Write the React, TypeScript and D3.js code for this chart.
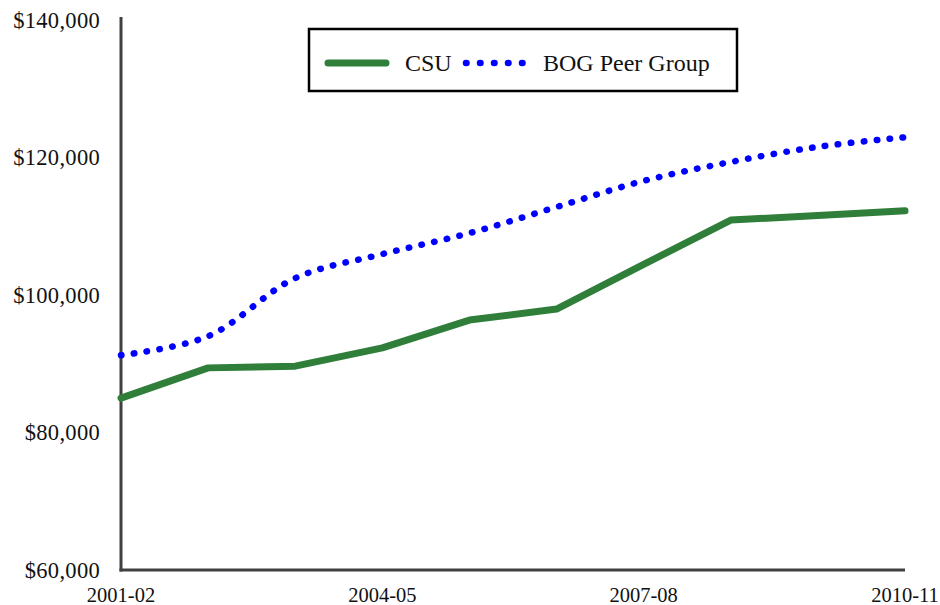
import React from "react";
import * as d3 from "d3";

const categories = ["2001-02", "2002-03", "2003-04", "2004-05", "2005-06", "2006-07", "2007-08", "2008-09", "2009-10", "2010-11"];
const csuValues = [85000, 89400, 89650, 92300, 96350, 97950, 104450, 110900, 111550, 112250];
const bogValues = [91250, 94000, 102450, 105950, 109000, 112800, 116600, 119350, 121550, 122950];
const yTicks = [60000, 80000, 100000, 120000, 140000];
const xTickLabels = ["2001-02", "2004-05", "2007-08", "2010-11"];

const W = 940;
const H = 605;
const left = 121;
const right = 905;
const top = 20;
const bottom = 570;
const FONT = "'Liberation Serif', 'Times New Roman', serif";

export default function App() {
  const x = d3.scalePoint<string>().domain(categories).range([left, right]);
  const y = d3.scaleLinear().domain([60000, 140000]).range([bottom, top]);
  const fmt = (v: number) => "$" + d3.format(",")(v);

  const csuLine = d3
    .line<number>()
    .x((_, i) => x(categories[i]) as number)
    .y((d) => y(d))
    .curve(d3.curveLinear);
  const bogLine = d3
    .line<number>()
    .x((_, i) => x(categories[i]) as number)
    .y((d) => y(d))
    .curve(d3.curveCatmullRom.alpha(0.5));

  return (
    <svg width={W} height={H} style={{ position: "absolute", left: 0, top: 0, background: "#fff" }} fontFamily={FONT}>
      <rect x={0} y={0} width={W} height={H} fill="#fff" />
      {/* y tick labels */}
      {yTicks.map((t) => (
        <text key={t} x={100} y={y(t)} dy="0.35em" textAnchor="end" fontSize={22.5} letterSpacing={0.3} fill="#111">
          {fmt(t)}
        </text>
      ))}
      {/* x tick labels */}
      {xTickLabels.map((c) => (
        <text key={c} x={x(c) as number} y={595} dy="0.35em" textAnchor="middle" fontSize={20.5} fill="#111">
          {c}
        </text>
      ))}
      {/* axes */}
      <line x1={left} x2={left} y1={top - 3} y2={bottom + 1.5} stroke="#404040" strokeWidth={3} />
      <line x1={left - 1.5} x2={right} y1={bottom} y2={bottom} stroke="#404040" strokeWidth={3} />
      {/* series */}
      <path d={csuLine(csuValues) || ""} fill="none" stroke="#2f7f3a" strokeWidth={7} strokeLinejoin="round" strokeLinecap="round" />
      <path d={bogLine(bogValues) || ""} fill="none" stroke="#0000ff" strokeWidth={6.5} strokeLinecap="round" strokeDasharray="0.5 12.5" />
      {/* legend */}
      <rect x={309} y={29} width={428} height={62} fill="#fff" stroke="#000" strokeWidth={2.5} />
      <line x1={328} x2={386} y1={63} y2={63} stroke="#2f7f3a" strokeWidth={7} strokeLinecap="round" />
      <text x={405} y={63} dy="0.35em" fontSize={24} fill="#111">CSU</text>
      <line x1={466} x2={523} y1={63} y2={63} stroke="#0000ff" strokeWidth={6.5} strokeLinecap="round" strokeDasharray="0.5 13.5" />
      <text x={543} y={63} dy="0.35em" fontSize={24} fill="#111">BOG Peer Group</text>
    </svg>
  );
}
